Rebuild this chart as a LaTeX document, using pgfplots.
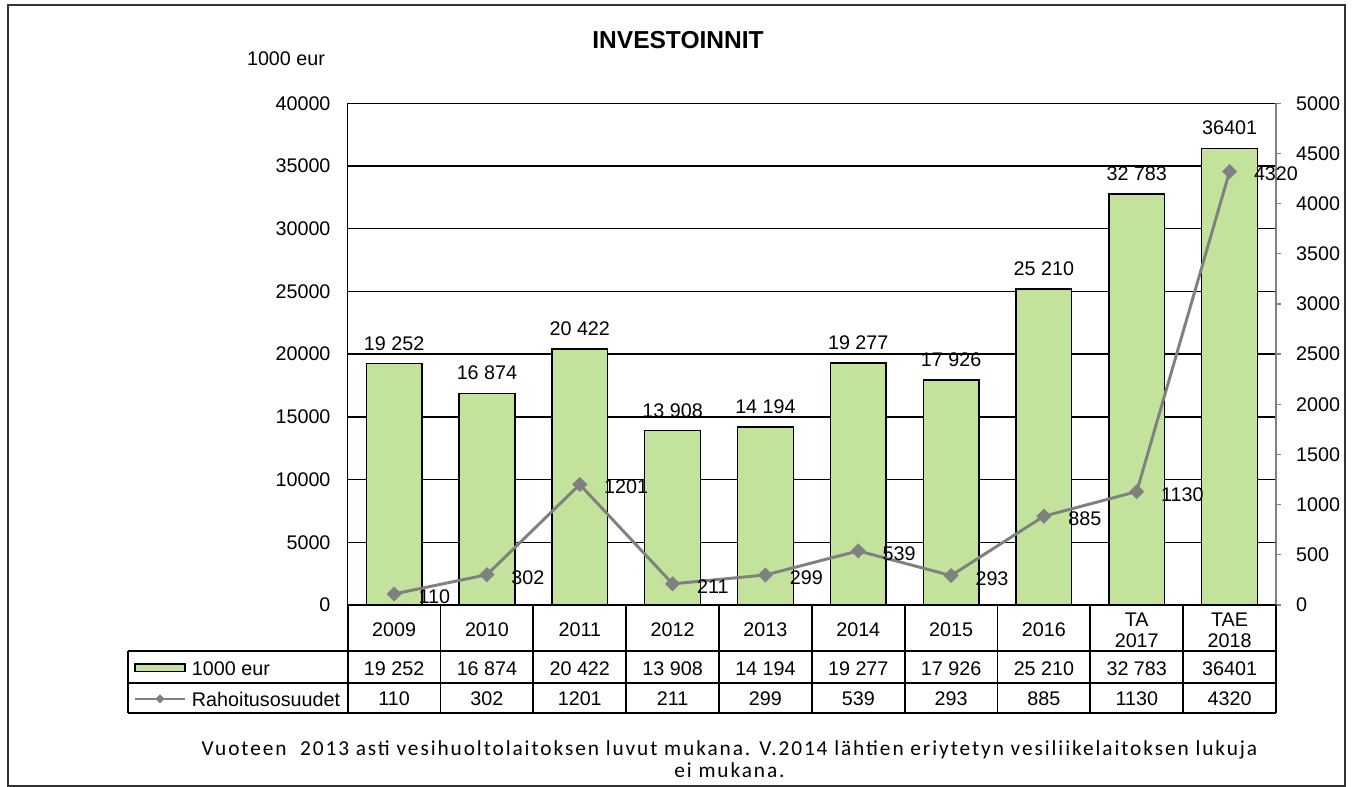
\documentclass[border=0pt]{standalone}
\usepackage{fontspec}
\setmainfont{Liberation Sans}
\newfontfamily\carlito[LetterSpace=9]{Carlito}
\usepackage{pgfplots}
\pgfplotsset{compat=1.18}
\definecolor{bargreen}{RGB}{195,226,155}
\definecolor{linegray}{RGB}{128,128,128}
\pgfplotsset{
  /pgf/number format/assume math mode=true,
  /pgf/number format/set thousands separator={},
}
\newcommand{\tf}{\fontsize{14.8}{17.8}\selectfont}
\begin{document}
\tf
\begin{tikzpicture}
\useasboundingbox (0,0) rectangle (1017.75pt,590.25pt);
% bars
\begin{axis}[
  at={(260.78pt,136.5pt)}, anchor=south west,
  scale only axis, width=696.2pt, height=376.3pt,
  xmin=-0.5, xmax=9.5, ymin=0, ymax=40000,
  ybar, bar width=0.6,
  axis y line*=left, axis x line*=bottom,
  axis line style={black, line width=1.1pt, -},
  ytick={0,5000,...,40000},
  scaled y ticks=false,
  ymajorgrids, grid style={black, line width=1pt},
  major tick length=0pt,
  xtick={0,...,9},
  xticklabels={2009,2010,2011,2012,2013,2014,2015,2016,{TA\\2017},{TAE\\2018}},
  xticklabel style={align=center, anchor=center, yshift=-18.75pt, font=\fontsize{14.8}{16}\selectfont},
  yticklabel style={xshift=-7.8pt, font=\tf},
  clip=false,
]
\addplot[fill=bargreen, draw=black, line width=1.1pt,
  nodes near coords, point meta=explicit symbolic,
  every node near coord/.append style={anchor=south, yshift=4.5pt, font=\tf, text=black}]
  table[meta=label] {
x y label
0 19252 {19 252}
1 16874 {16 874}
2 20422 {20 422}
3 13908 {13 908}
4 14194 {14 194}
5 19277 {19 277}
6 17926 {17 926}
7 25210 {25 210}
8 32783 {32 783}
9 36401 36401
};
\end{axis}
% line
\begin{axis}[
  at={(260.78pt,136.5pt)}, anchor=south west,
  scale only axis, width=696.2pt, height=376.3pt,
  xmin=-0.5, xmax=9.5, ymin=0, ymax=5000,
  axis x line=none, axis y line*=right,
  axis line style={linegray, line width=1pt, -},
  ytick={0,500,...,5000},
  scaled y ticks=false,
  tick style={linegray, line width=1pt},
  tick align=outside, major tick length=3.75pt,
  yticklabel style={xshift=6.3pt, font=\tf},
  clip=false,
]
\addplot[linegray, line width=2.2pt, mark=square*, mark size=2.9pt,
  mark options={rotate=45, fill=linegray, draw=linegray},
  nodes near coords,
  every node near coord/.append style={anchor=west, xshift=12.3pt, yshift=-2pt, font=\tf, text=black}]
  coordinates {(0,110) (1,302) (2,1201) (3,211) (4,299) (5,539) (6,293) (7,885) (8,1130) (9,4320)};
\end{axis}
\begin{scope}[x=0.75pt, y=0.75pt]
  % outer frame
  \draw[black!80, line width=1.5pt] (8,782) rectangle (1345,1);
  % title and unit
  \node[font=\fontsize{18.4}{20}\selectfont\bfseries] at (678,747.3) {INVESTOINNIT};
  \node at (286,728) {1000 eur};
  % table grid
  \begin{scope}[line width=1.3pt, black]
    \draw (347.7,182) -- (1276,182);
    \draw (128.3,136) -- (1276,136);
    \draw (128.3,103.7) -- (1276,103.7);
    \draw (128.3,73.7) -- (1276,73.7);
    \draw (128.3,136) -- (128.3,73.7);
    \foreach \k in {0,...,10} \draw ({347.7+92.83*\k},182) -- ({347.7+92.83*\k},73.7);
  \end{scope}
  % legend keys
  \draw[fill=bargreen, draw=black, line width=1.1pt] (135,123) rectangle (185,115.3);
  \node[anchor=west, inner sep=0pt] at (191.7,118) {1000 eur};
  \draw[linegray, line width=2.2pt] (135,88) -- (185,88);
  \fill[linegray] (160,88) ++(-4.5,0) -- ++(4.5,4.5) -- ++(4.5,-4.5) -- ++(-4.5,-4.5) -- cycle;
  \node[anchor=west, inner sep=0pt] at (191.7,88) {Rahoitusosuudet};
  % table values
  \foreach \v [count=\i from 0] in {{19 252},{16 874},{20 422},{13 908},{14 194},{19 277},{17 926},{25 210},{32 783},36401}
    \node at ({347.7+92.83*(\i+0.5)},118) {\v};
  \foreach \v [count=\i from 0] in {110,302,1201,211,299,539,293,885,1130,4320}
    \node at ({347.7+92.83*(\i+0.5)},88) {\v};
  % footnote
  \node[anchor=base, font=\carlito\fontsize{16}{18}\selectfont] at (729.5,31.5) {Vuoteen\ \ 2013 asti vesihuoltolaitoksen luvut mukana. V.2014 lähtien eriytetyn vesiliikelaitoksen lukuja};
  \node[anchor=base, font=\carlito\fontsize{16}{18}\selectfont] at (729.5,9.5) {ei mukana.};
\end{scope}
\end{tikzpicture}
\end{document}
